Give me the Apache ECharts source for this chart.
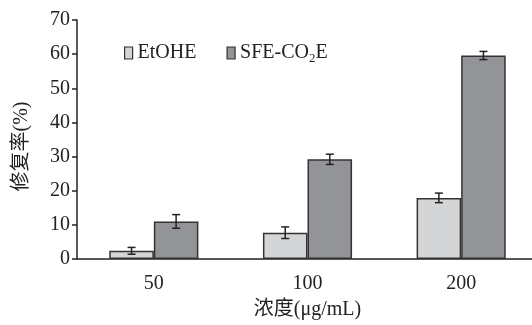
<!DOCTYPE html>
<html><head><meta charset="utf-8">
<script src="https://cdn.jsdelivr.net/npm/echarts@6/dist/echarts.min.js"></script>
<style>html,body{margin:0;padding:0;background:#fff;overflow:hidden;width:532px;height:325px}#c{width:540px;height:325px}</style>
</head><body><div id="c"></div>
<script>
const categories = ['50', '100', '200'];
const seriesNames = ['EtOHE', 'SFE-CO2E'];
const etoheValues = [2.4, 7.7, 17.9];
const etoheErrors = [1.0, 1.7, 1.4];
const sfeValues = [11.0, 29.2, 59.6];
const sfeErrors = [2.0, 1.5, 1.2];
const yTicks = [0, 10, 20, 30, 40, 50, 60, 70];

const serif = '"Liberation Serif", "Noto Sans CJK SC", serif';
const gapPct = 42;
const chart = echarts.init(document.getElementById('c'));

function errSeries(values, errors, side) {
  return {
    type: 'custom',
    silent: true,
    z: 5,
    data: values.map((v, i) => [i, v - errors[i], v + errors[i]]),
    renderItem: function (params, api) {
      const band = api.size([1, 0])[0];
      const barW = band * (1 - gapPct / 100) / 2;
      const lo = api.coord([api.value(0), api.value(1)]);
      const hi = api.coord([api.value(0), api.value(2)]);
      const x = lo[0] + side * barW / 2;
      const cap = 4;
      const st = { stroke: '#222', lineWidth: 1.5 };
      return { type: 'group', children: [
        { type: 'line', shape: { x1: x, y1: lo[1], x2: x, y2: hi[1] }, style: st },
        { type: 'line', shape: { x1: x - cap, y1: lo[1], x2: x + cap, y2: lo[1] }, style: st },
        { type: 'line', shape: { x1: x - cap, y1: hi[1], x2: x + cap, y2: hi[1] }, style: st }
      ]};
    }
  };
}

chart.setOption({
  animation: false,
  backgroundColor: '#fff',
  grid: { left: 77, right: 2, top: 20, height: 240 },
  legend: {
    left: 119, top: 38, itemWidth: 8, itemHeight: 12, itemGap: 30,
    data: seriesNames.map(n => ({ name: n, icon: 'rect', itemStyle: { borderWidth: 1.2, borderColor: '#333' } })),
    formatter: function (n) { return n === 'SFE-CO2E' ? '{a|SFE-CO}{s|2}{a|E}' : '{a|' + n + '}'; },
    textStyle: {
      rich: {
        a: { fontFamily: serif, fontSize: 20, color: '#222' },
        s: { fontFamily: serif, fontSize: 13, color: '#222', padding: [12, 0, 0, 0] }
      }
    }
  },
  xAxis: {
    type: 'category', data: categories,
    name: '浓度(μg/mL)', nameLocation: 'middle', nameGap: 41,
    nameTextStyle: { fontFamily: serif, fontSize: 20, color: '#222' },
    axisLine: { lineStyle: { color: '#222', width: 1.5 } },
    axisTick: { inside: true, length: 7, lineStyle: { color: '#222', width: 1.5 } },
    axisLabel: { fontFamily: serif, fontSize: 20, color: '#222', margin: 15 }
  },
  yAxis: {
    type: 'value', min: yTicks[0], max: yTicks[yTicks.length - 1], interval: 10,
    name: '修复率(%)', nameLocation: 'middle', nameGap: 45, nameRotate: 90,
    nameTextStyle: { fontFamily: serif, fontSize: 20, color: '#222', padding: [0, 14, 0, 0] },
    axisLine: { show: true, lineStyle: { color: '#222', width: 1.5 } },
    axisTick: { show: true, length: 5, lineStyle: { color: '#222', width: 1.5 } },
    axisLabel: { fontFamily: serif, fontSize: 20, color: '#222', margin: 7 },
    splitLine: { show: false }
  },
  series: [
    { name: seriesNames[0], type: 'bar', data: etoheValues, barGap: '0%', barCategoryGap: gapPct + '%',
      itemStyle: { color: '#d4d5d7', borderColor: '#333', borderWidth: 1.5 } },
    { name: seriesNames[1], type: 'bar', data: sfeValues, barGap: '0%', barCategoryGap: gapPct + '%',
      itemStyle: { color: '#939497', borderColor: '#333', borderWidth: 1.5 } },
    errSeries(etoheValues, etoheErrors, -1),
    errSeries(sfeValues, sfeErrors, 1)
  ]
});
</script></body></html>
